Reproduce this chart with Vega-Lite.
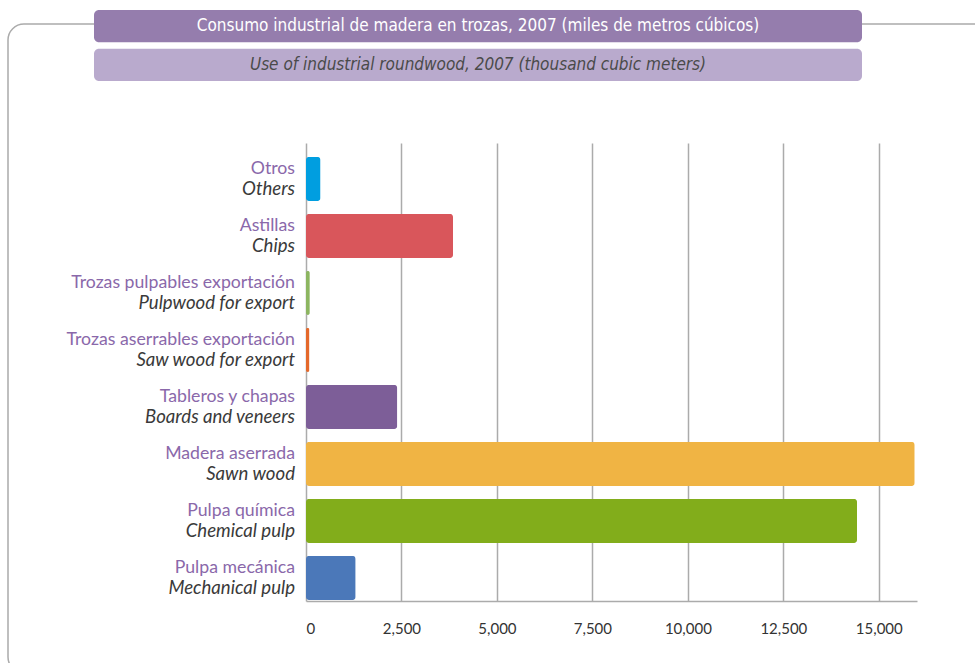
{
  "$schema": "https://vega.github.io/schema/vega-lite/v6.json",
  "width": 611,
  "height": 458,
  "autosize": "none",
  "padding": {"left": 306, "top": 143, "right": 58, "bottom": 62},
  "background": "white",
  "config": {"view": {"stroke": null}},
  "datasets": {
    "frame": [{"part": "frame"}],
    "banners": [
      {"band": "b", "row": "es", "text": "Consumo industrial de madera en trozas, 2007  (miles de metros cúbicos)"},
      {"band": "b", "row": "en", "text": "Use of industrial roundwood, 2007 (thousand cubic meters)"}
    ],
    "wood": [
      {"cat": "Otros", "es": "Otros", "en": "Others", "value": 380},
      {"cat": "Astillas", "es": "Astillas", "en": "Chips", "value": 3850},
      {"cat": "Trozas pulpables exportación", "es": "Trozas pulpables exportación", "en": "Pulpwood for export", "value": 100},
      {"cat": "Trozas aserrables exportación", "es": "Trozas aserrables exportación", "en": "Saw wood for export", "value": 90},
      {"cat": "Tableros y chapas", "es": "Tableros y chapas", "en": "Boards and veneers", "value": 2390},
      {"cat": "Madera aserrada", "es": "Madera aserrada", "en": "Sawn wood", "value": 15940},
      {"cat": "Pulpa química", "es": "Pulpa química", "en": "Chemical pulp", "value": 14430},
      {"cat": "Pulpa mecánica", "es": "Pulpa mecánica", "en": "Mechanical pulp", "value": 1300}
    ]
  },
  "layer": [
    {
      "data": {"name": "frame"},
      "mark": {"type": "rect", "fill": null, "stroke": "#ababab", "strokeWidth": 1.5, "cornerRadius": 16},
      "encoding": {
        "x": {"field": "part", "type": "nominal", "axis": null, "scale": {"range": [-298, 700], "paddingInner": 0, "paddingOuter": 0}},
        "y": {"field": "part", "type": "nominal", "axis": null, "scale": {"range": [-119, 530], "paddingInner": 0, "paddingOuter": 0}}
      }
    },
    {
      "data": {"name": "banners"},
      "encoding": {
        "x": {"field": "band", "type": "nominal", "axis": null, "scale": {"range": [-212, 556], "paddingInner": 0, "paddingOuter": 0}},
        "y": {"field": "row", "type": "nominal", "axis": null, "scale": {"domain": ["es", "en"], "range": [-133, -62], "paddingInner": 0.17, "paddingOuter": 0}}
      },
      "layer": [
        {
          "mark": {"type": "rect", "cornerRadius": 5},
          "encoding": {
            "color": {"field": "row", "type": "nominal", "legend": null, "scale": {"domain": ["es", "en"], "range": ["#957dad", "#b9aacd"]}}
          }
        },
        {
          "transform": [{"filter": "datum.row === 'es'"}],
          "mark": {"type": "text", "font": "Liberation Sans Narrow, DejaVu Sans Condensed, Lato", "fontSize": 17, "fontWeight": 500, "color": "white", "baseline": "middle"},
          "encoding": {"text": {"field": "text"}}
        },
        {
          "transform": [{"filter": "datum.row === 'en'"}],
          "mark": {"type": "text", "font": "Liberation Sans Narrow, DejaVu Sans Condensed, Lato", "fontSize": 17, "fontStyle": "italic", "color": "#4a4a4a", "baseline": "middle"},
          "encoding": {"text": {"field": "text"}}
        }
      ]
    },
    {
      "data": {"name": "wood"},
      "encoding": {
        "y": {
          "field": "cat", "type": "nominal", "sort": null, "axis": null,
          "scale": {"paddingInner": 0.228, "paddingOuter": 0.1316, "align": 0.93}
        }
      },
      "layer": [
        {
          "mark": {"type": "bar", "cornerRadius": 3},
          "encoding": {
            "x": {
              "field": "value", "type": "quantitative",
              "scale": {"domain": [0, 16000], "nice": false},
              "axis": {
                "values": [0, 2500, 5000, 7500, 10000, 12500, 15000],
                "format": ",.0f",
                "title": null,
                "grid": true,
                "gridColor": "#ababab",
                "gridWidth": 1.5,
                "domainColor": "#ababab",
                "domainWidth": 1.5,
                "ticks": false,
                "labelPadding": 20,
                "labelFont": "Lato",
                "labelFontSize": 15,
                "labelColor": "#333333"
              }
            },
            "color": {
              "field": "cat", "type": "nominal", "legend": null,
              "scale": {
                "domain": ["Otros", "Astillas", "Trozas pulpables exportación", "Trozas aserrables exportación", "Tableros y chapas", "Madera aserrada", "Pulpa química", "Pulpa mecánica"],
                "range": ["#009ee0", "#d9565b", "#8cb560", "#e4682a", "#7d5e98", "#f0b444", "#82ad1b", "#4b78b9"]
              }
            }
          }
        },
        {
          "mark": {"type": "text", "align": "right", "baseline": "middle", "dx": -11, "dy": -10, "font": "Lato", "fontSize": 17.7, "color": "#8a68aa"},
          "encoding": {"x": {"datum": 0, "type": "quantitative"}, "text": {"field": "es"}}
        },
        {
          "mark": {"type": "text", "align": "right", "baseline": "middle", "dx": -11, "dy": 10, "font": "Lato", "fontSize": 18.6, "fontStyle": "italic", "color": "#3a3a3a"},
          "encoding": {"x": {"datum": 0, "type": "quantitative"}, "text": {"field": "en"}}
        }
      ]
    }
  ],
  "resolve": {"scale": {"x": "independent", "y": "independent", "color": "independent"}}
}
